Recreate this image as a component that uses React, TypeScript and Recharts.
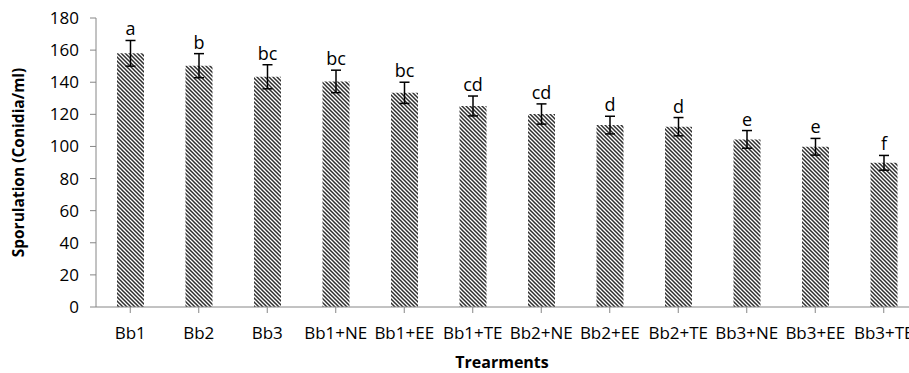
import React from 'react';
import { BarChart, Bar, XAxis, YAxis, ErrorBar, LabelList, Label } from 'recharts';

const treatments = ['Bb1', 'Bb2', 'Bb3', 'Bb1+NE', 'Bb1+EE', 'Bb1+TE', 'Bb2+NE', 'Bb2+EE', 'Bb2+TE', 'Bb3+NE', 'Bb3+EE', 'Bb3+TE'];
const sporulation = [158, 150.3, 143.4, 140.5, 133.4, 125.2, 120.2, 113.3, 112.3, 104.4, 99.8, 89.8];
const errors = [8, 7.5, 7.5, 7, 6.6, 6.2, 6.3, 5.5, 5.7, 5.5, 5.2, 4.6];
const letters = ['a', 'b', 'bc', 'bc', 'bc', 'cd', 'cd', 'd', 'd', 'e', 'e', 'f'];
const yTicks = [0, 20, 40, 60, 80, 100, 120, 140, 160, 180];

const data = treatments.map((t, i) => ({ name: t, value: sporulation[i], err: errors[i], grp: letters[i] }));

const FONT = '"Open Sans", sans-serif';
const AXIS = '#868686';

const LetterLabel = (props: any) => {
  const { x, y, width, height, value, index } = props;
  const pxPerUnit = height / sporulation[index];
  const top = y - errors[index] * pxPerUnit;
  return (
    <text x={x + width / 2} y={top - 5} textAnchor="middle" fontSize={18} fontFamily={FONT} fill="#000">
      {value}
    </text>
  );
};

const YTitle = (props: any) => {
  const vb = props.viewBox || { x: 0, y: 18, width: 96, height: 289 };
  const cx = vb.x + 18;
  const cy = vb.y + vb.height / 2;
  return (
    <text x={cx} y={cy} transform={`rotate(-90 ${cx} ${cy})`} textAnchor="middle" dominantBaseline="central"
      fontSize={15.5} fontWeight={700} fontFamily={FONT} fill="#000">
      Sporulation (Conidia/ml)
    </text>
  );
};

const XTitle = (props: any) => {
  const vb = props.viewBox || { x: 96, y: 307, width: 822, height: 60 };
  return (
    <text x={vb.x + vb.width / 2 - 5} y={362} textAnchor="middle" dominantBaseline="central"
      fontSize={16} fontWeight={700} fontFamily={FONT} fill="#000">
      Trearments
    </text>
  );
};

export default function App() {
  return (
    <div style={{ position: 'absolute', left: 0, top: 0, width: 909, height: 373, overflow: 'hidden', background: '#fff' }}>
      <BarChart width={930} height={373} data={data} margin={{ top: 18, right: 12, bottom: 6, left: 0 }} barSize={27}>
        <defs>
          <pattern id="hatch" width="4" height="4" patternUnits="userSpaceOnUse">
            <rect width="4" height="4" fill="#fff" />
            <path d="M-1,-1 L5,5 M-1,3 L1,5 M3,-1 L5,1" stroke="#2e2e2e" strokeWidth={1.5} />
          </pattern>
        </defs>
        <XAxis dataKey="name" height={60} interval={0} stroke={AXIS} tickSize={6} tickMargin={14}
          tick={{ fontSize: 17, fontFamily: FONT, fill: '#000' }}>
          <Label content={XTitle} position="center" />
        </XAxis>
        <YAxis width={96} domain={[0, 180]} ticks={yTicks} interval={0} stroke={AXIS} tickSize={6} tickMargin={11}
          tick={{ fontSize: 17, fontFamily: FONT, fill: '#000' }}>
          <Label content={YTitle} position="center" />
        </YAxis>
        <Bar dataKey="value" fill="url(#hatch)" isAnimationActive={false}>
          <ErrorBar dataKey="err" width={5} stroke="#000" strokeWidth={1.5} isAnimationActive={false} />
          <LabelList dataKey="grp" content={LetterLabel} />
        </Bar>
      </BarChart>
    </div>
  );
}
